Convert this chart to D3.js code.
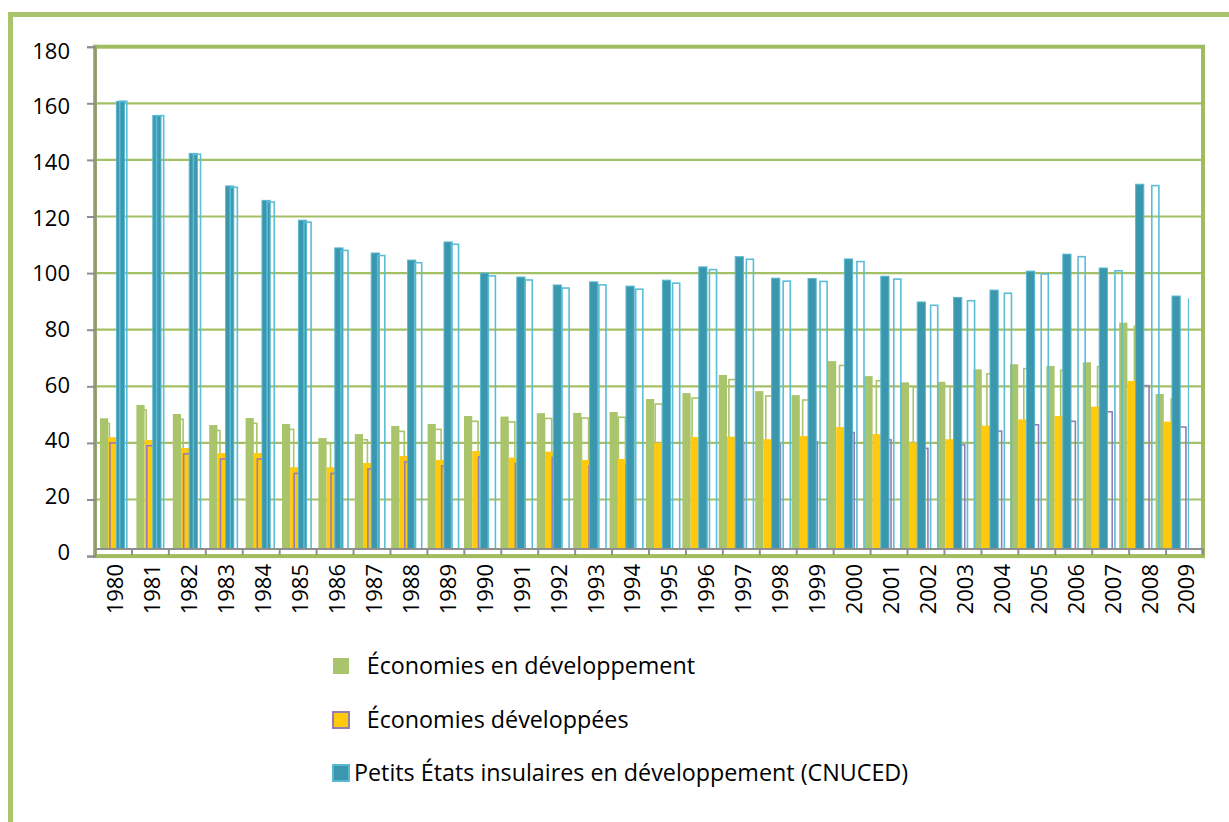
<!DOCTYPE html>
<html>
<head>
<meta charset="utf-8">
<script src="https://cdn.jsdelivr.net/npm/d3@7"></script>
<style>
  body { margin: 0; background: #fff; }
  svg { display: block; }
  text { font-family: "Open Sans", sans-serif; fill: #000; }
</style>
</head>
<body>
<svg id="chart" width="1229" height="822"></svg>
<script>
const years = [1980, 1981, 1982, 1983, 1984, 1985, 1986, 1987, 1988, 1989,
  1990, 1991, 1992, 1993, 1994, 1995, 1996, 1997, 1998, 1999,
  2000, 2001, 2002, 2003, 2004, 2005, 2006, 2007, 2008, 2009];
const seriesNames = ['Économies en développement', 'Économies développées',
  'Petits États insulaires en développement (CNUCED)'];
const developing = [48.7, 53.4, 50.2, 46.3, 48.8, 46.7, 41.7, 43.1, 46.0, 46.7,
  49.5, 49.3, 50.5, 50.6, 50.9, 55.5, 57.6, 64.0, 58.3, 56.9,
  68.9, 63.6, 61.4, 61.6, 66.0, 67.8, 67.2, 68.5, 82.5, 57.3];
const developed = [42.0, 41.0, 38.2, 36.4, 36.4, 31.4, 31.4, 32.9, 35.4, 34.0,
  37.1, 34.8, 36.9, 34.0, 34.3, 40.0, 42.1, 42.2, 41.3, 42.4,
  45.6, 43.1, 40.1, 41.3, 46.1, 48.3, 49.5, 52.8, 61.9, 47.5];
const sids = [160.7, 155.7, 142.3, 130.8, 125.7, 118.7, 108.9, 107.1, 104.6, 111.0,
  100.0, 98.6, 95.8, 96.9, 95.4, 97.5, 102.2, 105.8, 98.2, 98.1,
  105.0, 98.9, 89.8, 91.4, 94.0, 100.7, 106.7, 101.8, 131.4, 91.9];
const yTicks = [0, 20, 40, 60, 80, 100, 120, 140, 160, 180];

const series = [
  { name: seriesNames[0], values: developing, fill: '#a9c46b', stroke: 'none', back: '#a9c46b', key: 'none' },
  { name: seriesNames[1], values: developed, fill: '#ffc90e', stroke: 'none', back: '#957db5', key: '#957db5' },
  { name: seriesNames[2], values: sids, fill: '#3b97ad', stroke: '#5ab8d0', back: '#5bbdd6', key: '#5ab8d0' }
];

const svg = d3.select('#chart');
const plot = { left: 95, right: 1203, top: 46.7, bottom: 556.1 };
const floorY = 548.5;

const y = d3.scaleLinear().domain([0, 180]).range([plot.bottom, plot.top]);
const yLab = d3.scaleLinear().domain([0, 180]).range([551.7, 50.7]);
// back face of the 3D columns, a bit stretched round y=105
const yBack = y.copy().range(y.range().map(v => 105 + (v - 105) * 1.017));

const x = d3.scaleBand().domain(years).range([plot.left, plot.right]);
const xFront = d3.scaleBand().domain(years).range([100, 100 + 36.4 * years.length]);
const xBack = d3.scaleBand().domain(years).range([101.5, 101.5 + 36.86 * years.length]);
const sFront = d3.scaleBand().domain([0, 1, 2]).range([0, 24.6]);
const backOffset = [0, 7.6, 17.4];
const backWidth = 8.7;

// outer frame
svg.append('rect')
  .attr('x', 10.5).attr('y', 14.5)
  .attr('width', 1300).attr('height', 900)
  .attr('fill', 'none').attr('stroke', '#a9c46b').attr('stroke-width', 5);

// gridlines
svg.append('g')
  .selectAll('line')
  .data(yTicks.filter(d => d > 0 && d < 180))
  .join('line')
  .attr('x1', plot.left).attr('x2', plot.right)
  .attr('y1', d => y(d)).attr('y2', d => y(d))
  .attr('stroke', '#a4c065').attr('stroke-width', 2.2);

// plot frame
svg.append('rect')
  .attr('x', plot.left).attr('y', plot.top)
  .attr('width', plot.right - plot.left).attr('height', plot.bottom - plot.top)
  .attr('fill', 'none').attr('stroke', '#9fbd5e').attr('stroke-width', 4);

svg.append('clipPath').attr('id', 'backClip')
  .append('rect')
  .attr('x', plot.left).attr('y', plot.top)
  .attr('width', 1189 - plot.left).attr('height', floorY - plot.top);

// each series: front face, then its back face outline on top
series.forEach((s, si) => {
  svg.append('g')
    .selectAll('rect')
    .data(s.values)
    .join('rect')
    .attr('x', (d, i) => xFront(years[i]) + sFront(si))
    .attr('y', d => y(d))
    .attr('width', sFront.bandwidth())
    .attr('height', d => floorY - y(d))
    .attr('fill', s.fill)
    .attr('stroke', s.stroke)
    .attr('stroke-width', 1);

  svg.append('g')
    .attr('clip-path', 'url(#backClip)')
    .selectAll('rect')
    .data(s.values)
    .join('rect')
    .attr('x', (d, i) => xBack(years[i]) + backOffset[si] + 0.8)
    .attr('y', d => yBack(d))
    .attr('width', backWidth - 1.6)
    .attr('height', d => floorY - yBack(d) + 4)
    .attr('fill', 'none')
    .attr('stroke', s.back)
    .attr('stroke-width', 1.6);
});

// y axis
const yAxis = svg.append('g')
  .attr('transform', `translate(${plot.left},0)`)
  .call(d3.axisLeft(y).tickValues(yTicks).tickSize(8).tickFormat(''));
yAxis.select('.domain').attr('stroke', '#8f8f8f').attr('stroke-width', 2);
yAxis.selectAll('.tick line').attr('stroke', '#8f8f8f').attr('stroke-width', 2);

svg.append('g')
  .selectAll('text')
  .data(yTicks)
  .join('text')
  .attr('x', 70)
  .attr('y', d => yLab(d))
  .attr('dy', '0.36em')
  .attr('text-anchor', 'end')
  .style('font-size', '22px')
  .text(d => d);

// x axis
svg.append('line')
  .attr('x1', plot.left).attr('x2', plot.right)
  .attr('y1', 549).attr('y2', 549)
  .attr('stroke', '#8f8f8f').attr('stroke-width', 2);

svg.append('g')
  .selectAll('line')
  .data(years.slice(1).map(d => x(d)).concat([plot.right]))
  .join('line')
  .attr('x1', d => d).attr('x2', d => d)
  .attr('y1', 549).attr('y2', 555)
  .attr('stroke', '#8f8f8f').attr('stroke-width', 2);

svg.append('g')
  .selectAll('text')
  .data(years)
  .join('text')
  .attr('transform', d => `translate(${x(d) + x.bandwidth() / 2 + 2},564) rotate(-90)`)
  .attr('dy', '0.36em')
  .attr('text-anchor', 'end')
  .style('font-size', '22px')
  .text(d => d);

// legend
const legendRows = [
  { y: 658, textX: 366.7 },
  { y: 712, textX: 366.7 },
  { y: 765, textX: 354 }
];
const legend = svg.append('g');
series.forEach((s, i) => {
  const r = legendRows[i];
  legend.append('rect')
    .attr('x', 333).attr('y', r.y)
    .attr('width', 16).attr('height', 16)
    .attr('fill', s.fill)
    .attr('stroke', s.key)
    .attr('stroke-width', 2);
  legend.append('text')
    .attr('x', r.textX).attr('y', r.y + 8)
    .attr('dy', '0.36em')
    .style('font-size', '23.3px')
    .text(s.name);
});
</script>
</body>
</html>
